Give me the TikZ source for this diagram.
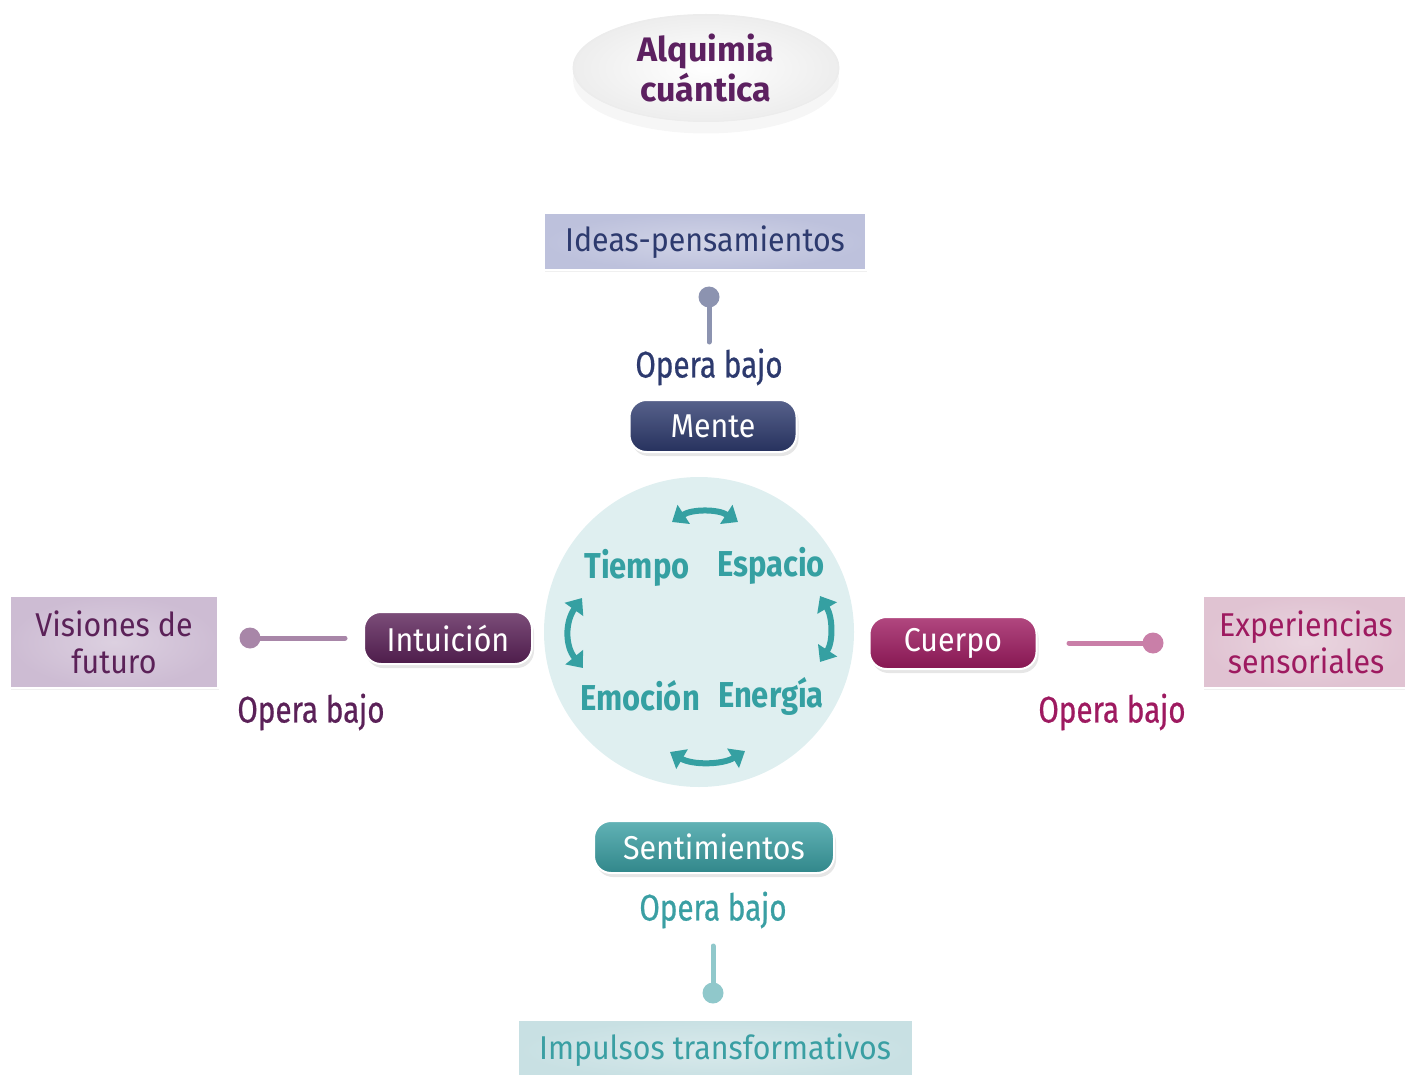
\documentclass[tikz,border=0pt]{standalone}
\usepackage{fontspec}
\setmainfont{Fira Sans}
\newfontfamily\bodyfont{Fira Sans}[FakeStretch=0.92]
\newfontfamily\narrowfont{Fira Sans}[FakeStretch=0.8,FakeBold=0.6]
\newfontfamily\headfont{Fira Sans}[FakeStretch=0.86]
\usetikzlibrary{positioning,shadows,shapes.geometric,arrows.meta}
\definecolor{titlecol}{HTML}{5C2060}
\definecolor{mente}{HTML}{2D3A6E}
\definecolor{mentebox}{HTML}{BDC1DC}
\definecolor{mentedot}{HTML}{8C93B0}
\definecolor{intu}{HTML}{5B2158}
\definecolor{intubox}{HTML}{CDBCD3}
\definecolor{intudot}{HTML}{A886A8}
\definecolor{cuerpo}{HTML}{9E1A60}
\definecolor{cuerpobox}{HTML}{E0C3D2}
\definecolor{cuerpodot}{HTML}{C97FA8}
\definecolor{senti}{HTML}{3A9FA3}
\definecolor{sentibox}{HTML}{C8E0E3}
\definecolor{sentidot}{HTML}{90C8CB}
\definecolor{corefill}{HTML}{DFEFF0}
\definecolor{corecol}{HTML}{35A0A2}
\tikzset{
  pill/.style={rounded corners=17pt, minimum height=52pt, draw=white, line width=2pt,
    text=white, font=\bodyfont\fontsize{33}{38}\selectfont, top color=#1!80!white, bottom color=#1!85!black,
    drop shadow={opacity=0.2, shadow xshift=2pt, shadow yshift=-4pt}},
  leaf/.style={draw=white, line width=2pt, align=center, font=\bodyfont\fontsize{33}{37}\selectfont,
    inner color=#1!70!white, outer color=#1, drop shadow={opacity=0.12, shadow xshift=1pt, shadow yshift=-2pt}},
  dot/.style={circle, inner sep=0pt, minimum size=21pt, fill=#1},
  stem/.style={line width=5pt, line cap=round},
  opera/.style={font=\narrowfont\fontsize{37}{40}\selectfont},
  corelab/.style={font=\headfont\bfseries\fontsize{36}{40}\selectfont, text=corecol},
  cycle/.style={line width=6pt, draw=corecol, {Triangle[length=14pt,width=22pt]}-{Triangle[length=14pt,width=22pt]}}
}
\begin{document}
\begin{tikzpicture}[x=1pt,y=-1pt]
\useasboundingbox (0,0) rectangle (1405,1075);
\node[ellipse, minimum width=266pt, minimum height=107pt, inner color=white, outer color=gray!14,
  draw=gray!15, line width=1pt, drop shadow={opacity=0.07, shadow xshift=0pt, shadow yshift=-12pt},
  align=center, text=titlecol, font=\bfseries\fontsize{34}{40}\selectfont] (title) at (706,68) {Alquimia\\cuántica};

\node[leaf=mentebox, text=mente, minimum width=322pt, minimum height=57pt] (ideas) at (705,242) {Ideas-pensamientos};
\node[dot=mentedot] (d1) at (709,297) {};
\coordinate (s1) at (709,342);
\draw[stem, mentedot] (d1) -- (s1);
\node[opera, text=mente] (op1) at (709,367) {Opera bajo};
\node[pill=mente, minimum width=167pt] (mente) at (713,426) {Mente};

\node[circle, fill=corefill, minimum size=310pt] (core) at (699,632) {};
\node[corelab] (tiempo) at (637,568) {Tiempo};
\node[corelab] (espacio) at (771,566) {Espacio};
\node[corelab] (emocion) at (640,696) {Emoción};
\node[corelab] (energia) at (771,696) {Energía};
\coordinate (a1) at (672,522);
\coordinate (a2) at (738,522);
\coordinate (b1) at (670,752);
\coordinate (b2) at (745,751);
\coordinate (c1) at (582,598);
\coordinate (c2) at (583,668);
\coordinate (e1) at (820,596);
\coordinate (e2) at (820,662);
\draw[cycle] (a1) .. controls (692,509) and (718,509) .. (a2);
\draw[cycle] (b1) .. controls (692,765) and (722,765) .. (b2);
\draw[cycle] (c1) .. controls (565,622) and (565,646) .. (c2);
\draw[cycle] (e1) .. controls (833,618) and (833,642) .. (e2);

\node[pill=intu, minimum width=168pt] (intu) at (448,638) {Intuición};
\node[dot=intudot] (d2) at (250,638) {};
\coordinate (s2) at (345,638);
\draw[stem, intudot] (d2) -- (s2);
\node[leaf=intubox, text=intu, minimum width=208pt, minimum height=92pt] (vision) at (114,642) {Visiones de\\futuro};
\node[opera, text=intu] (op2) at (311,712) {Opera bajo};

\node[pill=cuerpo, minimum width=167pt] (cuerpo) at (953,643) {Cuerpo};
\node[dot=cuerpodot] (d3) at (1153,643) {};
\coordinate (s3) at (1069,643);
\draw[stem, cuerpodot] (s3) -- (d3);
\node[leaf=cuerpobox, text=cuerpo, minimum width=206pt, minimum height=92pt] (exper) at (1306,642) {Experiencias\\sensoriales};
\node[opera, text=cuerpo] (op3) at (1112,712) {Opera bajo};

\node[pill=senti, minimum width=240pt] (senti) at (714,847) {Sentimientos};
\node[opera, text=senti] (op4) at (713,910) {Opera bajo};
\node[dot=sentidot] (d4) at (713,993) {};
\coordinate (s4) at (713,946);
\draw[stem, sentidot] (s4) -- (d4);
\node[leaf=sentibox, text=senti, minimum width=395pt, minimum height=60pt] (impul) at (715,1050) {Impulsos transformativos};
\end{tikzpicture}
\end{document}
